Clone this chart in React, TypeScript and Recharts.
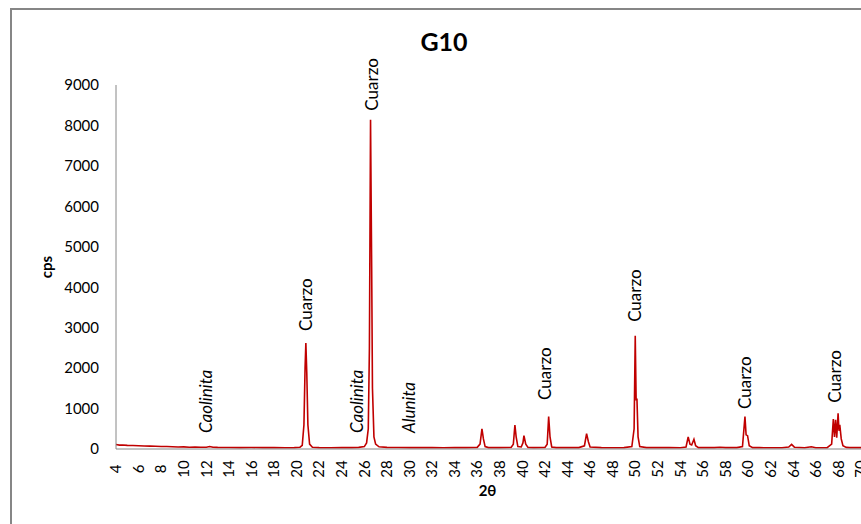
import React from 'react';
import { LineChart, Line, XAxis, YAxis, ReferenceDot } from 'recharts';

// 2θ positions (denser around the peaks)
const angles = [
  4.0, 4.3, 4.6, 5.0, 5.5, 6.0, 6.5, 7.0, 7.5, 8.0, 8.5, 9.0, 9.5, 10.0, 10.5, 11.0, 11.5, 12.0, 12.3, 12.6,
  13.0, 14.0, 15.0, 16.0, 17.0, 18.0, 19.0, 19.8, 20.3, 20.5, 20.65, 20.75, 20.82, 20.9, 21.0, 21.15, 21.4,
  22.0, 23.0, 24.0, 24.9, 25.5, 26.0, 26.2, 26.35, 26.45, 26.55, 26.65, 26.72, 26.85, 27.0, 27.3,
  28.0, 29.0, 30.0, 31.0, 32.0, 33.0, 34.0, 35.0, 36.0, 36.25, 36.42, 36.55, 36.7, 37.0, 38.0,
  39.0, 39.2, 39.34, 39.45, 39.6, 39.9, 40.05, 40.14, 40.3, 40.5, 41.0, 42.0, 42.2, 42.33, 42.45, 42.6,
  43.0, 44.0, 45.0, 45.5, 45.69, 45.85, 46.0, 47.0, 48.0, 49.0, 49.7, 49.9, 50.0, 50.08, 50.15, 50.25, 50.4,
  51.0, 52.0, 53.0, 54.0, 54.5, 54.69, 54.85, 55.0, 55.2, 55.35, 55.6, 56.0, 57.0, 57.5, 58.0, 59.0,
  59.5, 59.72, 59.82, 59.95, 60.1, 60.4, 61.0, 62.0, 63.0, 63.6, 63.85, 64.1, 65.0, 65.6, 66.0, 67.0,
  67.4, 67.55, 67.65, 67.75, 67.85, 67.97, 68.05, 68.12, 68.25, 68.4, 68.7, 69.0, 70.0,
];

const counts = [
  110, 95, 100, 90, 85, 80, 75, 70, 68, 60, 62, 55, 50, 52, 45, 48, 42, 45, 60, 45,
  40, 38, 35, 36, 33, 34, 32, 35, 45, 90, 600, 2000, 2620, 1900, 600, 120, 45,
  35, 32, 33, 35, 40, 60, 150, 500, 2500, 8140, 4500, 1500, 300, 120, 55,
  40, 38, 35, 33, 35, 32, 34, 33, 40, 120, 500, 250, 60, 35, 33,
  38, 120, 590, 300, 60, 50, 150, 330, 120, 40, 35, 38, 120, 800, 300, 50,
  35, 33, 35, 80, 380, 180, 50, 33, 32, 35, 60, 500, 2800, 1200, 1250, 300, 60,
  35, 33, 34, 32, 50, 300, 120, 100, 240, 80, 35, 33, 35, 45, 33, 35,
  60, 800, 350, 330, 80, 35, 33, 30, 32, 50, 115, 45, 32, 55, 32, 35,
  120, 740, 300, 720, 280, 880, 450, 600, 250, 80, 40, 35, 33,
];

const xTicks = [4, 6, 8, 10, 12, 14, 16, 18, 20, 22, 24, 26, 28, 30, 32, 34, 36, 38, 40, 42, 44, 46, 48, 50, 52, 54, 56, 58, 60, 62, 64, 66, 68, 70];
const yTicks = [0, 1000, 2000, 3000, 4000, 5000, 6000, 7000, 8000, 9000];

// phase labels: name, 2θ, cps where the label starts, italic
const labelNames = ['Caolinita', 'Cuarzo', 'Caolinita', 'Cuarzo', 'Alunita', 'Cuarzo', 'Cuarzo', 'Cuarzo', 'Cuarzo'];
const labelAngles = [11.97, 20.83, 25.35, 26.67, 29.95, 42.05, 49.97, 59.75, 67.73];
const labelCounts = [396, 2920, 396, 8366, 396, 1213, 3144, 990, 1146];
const labelItalic = [true, false, true, false, true, false, false, false, false];

const data = angles.map((t, i) => ({ t, cps: counts[i] }));

const FONT = 'Lato, "Open Sans", sans-serif';
const LINE_COLOR = '#c00000';
const AXIS_COLOR = '#868686';

const XTick = ({ x, y, payload }: any) => {
  const cy = y + 12;
  return (
    <text
      x={x}
      y={cy}
      dy="0.35em"
      transform={`rotate(-90, ${x}, ${cy})`}
      textAnchor="middle"
      fontSize={15}
      fontFamily={FONT}
      fill="#000"
    >
      {payload.value}
    </text>
  );
};

const PhaseLabel = (text: string, italic: boolean) => (props: any) => {
  const { cx, cy } = props;
  return (
    <text
      x={cx}
      y={cy}
      dy="0.35em"
      transform={`rotate(-90, ${cx}, ${cy})`}
      textAnchor="start"
      fontSize={17}
      fontStyle={italic ? 'italic' : 'normal'}
      fontFamily={FONT}
      fill="#000"
    >
      {text}
    </text>
  );
};

const XTitle = ({ viewBox }: any) => (
  <text
    x={viewBox.x + viewBox.width / 2 - 1}
    y={viewBox.y + 47}
    textAnchor="middle"
    fontSize={15}
    fontWeight="bold"
    fontFamily={FONT}
    fill="#000"
  >
    2θ
  </text>
);

const YTitle = ({ viewBox }: any) => {
  const cx = 47;
  const cy = viewBox.y + viewBox.height / 2;
  return (
    <text
      x={cx}
      y={cy}
      dy="0.35em"
      transform={`rotate(-90, ${cx}, ${cy})`}
      textAnchor="middle"
      fontSize={15}
      fontWeight="bold"
      fontFamily={FONT}
      fill="#000"
    >
      cps
    </text>
  );
};

const App: React.FC = () => {
  return (
    <div style={{ position: 'absolute', left: 0, top: 0, width: 861, height: 524, overflow: 'hidden', background: '#fff' }}>
      <div
        style={{
          position: 'absolute',
          left: 10,
          top: 8,
          width: 900,
          height: 600,
          borderTop: `2px solid ${AXIS_COLOR}`,
          borderLeft: `2px solid ${AXIS_COLOR}`,
        }}
      />
      <svg style={{ position: 'absolute', left: 0, top: 0 }} width={861} height={80}>
        <text x={444} y={51} textAnchor="middle" fontSize={25} fontWeight="bold" fontFamily={FONT} fill="#000">
          G10
        </text>
      </svg>
      <div style={{ position: 'absolute', left: 0, top: 0 }}>
        <LineChart width={880} height={524} data={data} margin={{ top: 85, right: 19, bottom: 30, left: 0 }}>
          <XAxis
            dataKey="t"
            type="number"
            domain={[4, 70]}
            ticks={xTicks}
            interval={0}
            height={45}
            stroke={AXIS_COLOR}
            tickLine={false}
            tick={<XTick />}
            label={<XTitle />}
          />
          <YAxis
            type="number"
            domain={[0, 9000]}
            ticks={yTicks}
            interval={0}
            width={116}
            stroke={AXIS_COLOR}
            tickLine={false}
            tickMargin={11}
            tick={{ fill: '#000', fontSize: 15, fontFamily: FONT }}
            label={<YTitle />}
          />
          <Line
            type="linear"
            dataKey="cps"
            stroke={LINE_COLOR}
            strokeWidth={1.6}
            dot={false}
            isAnimationActive={false}
          />
          {labelNames.map((name, i) => (
            <ReferenceDot
              key={i}
              x={labelAngles[i]}
              y={labelCounts[i]}
              r={0}
              shape={PhaseLabel(name, labelItalic[i])}
            />
          ))}
        </LineChart>
      </div>
    </div>
  );
};

export default App;
